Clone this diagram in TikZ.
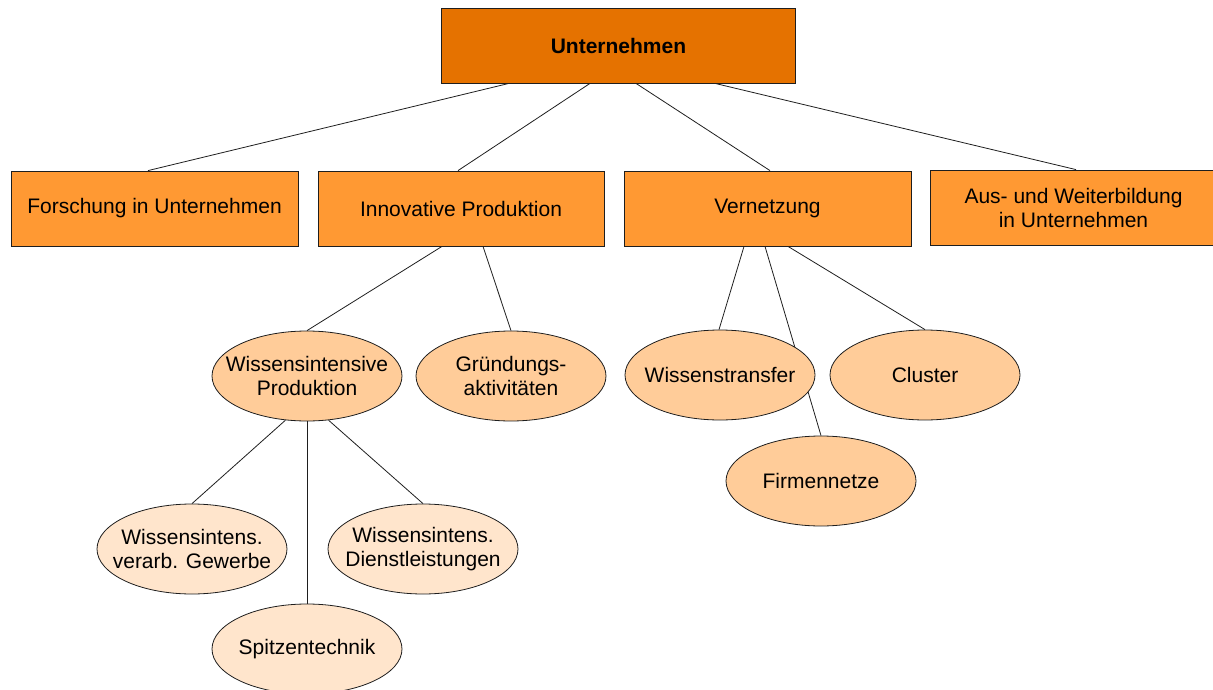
\documentclass[tikz,border=0pt]{standalone}
\usepackage{fontspec}
\setmainfont{Liberation Sans}
\usetikzlibrary{shapes.geometric,backgrounds}
\definecolor{rootc}{RGB}{229,114,0}
\definecolor{boxc}{RGB}{255,153,51}
\definecolor{ellc}{RGB}{255,204,153}
\definecolor{ell3c}{RGB}{255,229,204}
\definecolor{linec}{RGB}{30,30,30}
\begin{document}
\begin{tikzpicture}[x=1pt,y=-1pt,
  font=\fontsize{21}{24}\selectfont,
  rootbox/.style={draw=linec, line width=0.8pt, fill=rootc, minimum width=354pt, minimum height=75pt, inner sep=0pt, align=center, font=\fontsize{21}{24}\selectfont\bfseries},
  lvbox/.style={draw=linec, line width=0.8pt, fill=boxc, minimum width=287pt, minimum height=75pt, inner sep=0pt, align=center},
  ell/.style={ellipse, draw=linec, line width=0.8pt, fill=ellc, minimum width=190pt, minimum height=90pt, inner sep=0pt},
  ellthree/.style={ell, fill=ell3c},
  conn/.style={draw=linec, line width=0.8pt}]
\useasboundingbox (0,0) rectangle (1213,690);
\node[rootbox] (root) at (618.5,45.5) {Unternehmen};
\node[lvbox] (forsch) at (154.5,208.5) {Forschung in Unternehmen};
\node[lvbox, minimum width=286pt] (inno) at (461,208.5) {Innovative Produktion};
\node[lvbox] (vern) at (767.5,208.5) {Vernetzung};
\node[lvbox] (aus) at (1073.5,207.5) {Aus- und Weiterbildung\\in Unternehmen};
\node[ell, label={[align=center]center:Wissensintensive\\Produktion}] (wp) at (307,376) {};
\node[ell, label={[align=center]center:Gründungs-\\aktivitäten}] (gr) at (511,376) {};
\node[ell, label={center:Wissenstransfer}] (wt) at (720,375) {};
\node[ell, label={center:Cluster}] (cl) at (925,375) {};
\node[ell, label={center:Firmennetze}] (fn) at (821,481) {};
\node[ellthree, label={[align=center]center:Wissensintens.\\verarb. Gewerbe}] (vv) at (192,549) {};
\node[ellthree, label={[align=center]center:Wissensintens.\\Dienstleistungen}] (dl) at (423,549) {};
\node[ellthree, label={center:Spitzentechnik}] (sp) at (307,649) {};
\begin{scope}[on background layer]
\draw[conn] ([xshift=-109.5pt]root.south) -- ([xshift=-6.5pt]forsch.north);
\draw[conn] ([xshift=-28.5pt]root.south) -- ([xshift=-3pt]inno.north);
\draw[conn] ([xshift=17.5pt]root.south) -- ([xshift=2.5pt]vern.north);
\draw[conn] ([xshift=96.5pt]root.south) -- ([xshift=2.5pt]aus.north);
\draw[conn] ([xshift=-19pt]inno.south) -- (wp.north);
\draw[conn] ([xshift=22pt]inno.south) -- (gr.north);
\draw[conn] ([xshift=-23.5pt]vern.south) -- ([xshift=-1pt]wt.north);
\draw[conn] ([xshift=-2.5pt]vern.south) -- (fn.north);
\draw[conn] ([xshift=20.5pt]vern.south) -- (cl.north);
\draw[conn] (wp.244) -- (vv.north);
\draw[conn] (wp.south) -- (sp.north);
\draw[conn] (wp.296) -- (dl.north);
\end{scope}
\end{tikzpicture}
\end{document}
